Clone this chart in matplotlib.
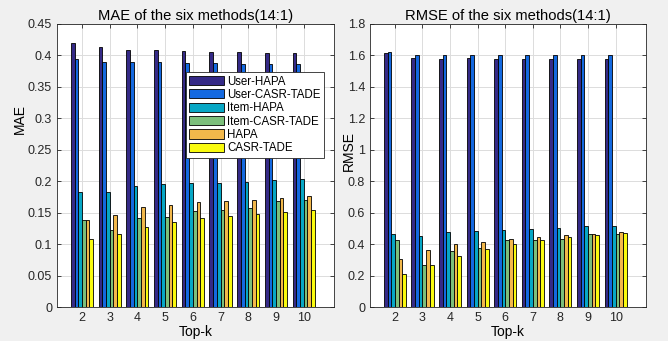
import numpy as np
import matplotlib
matplotlib.use("Agg")
import matplotlib.pyplot as plt

plt.rcParams["font.family"] = ["Liberation Sans", "DejaVu Sans"]

# ---------- DATA ----------
top_k = [2, 3, 4, 5, 6, 7, 8, 9, 10]
methods = ["User-HAPA", "User-CASR-TADE", "Item-HAPA", "Item-CASR-TADE", "HAPA", "CASR-TADE"]

mae_user_hapa = [0.419, 0.413, 0.408, 0.408, 0.407, 0.406, 0.405, 0.404, 0.403]
mae_user_casr = [0.394, 0.390, 0.390, 0.389, 0.388, 0.388, 0.387, 0.387, 0.386]
mae_item_hapa = [0.183, 0.183, 0.192, 0.196, 0.197, 0.197, 0.199, 0.202, 0.203]
mae_item_casr = [0.139, 0.122, 0.141, 0.144, 0.153, 0.154, 0.158, 0.168, 0.171]
mae_hapa      = [0.139, 0.147, 0.159, 0.163, 0.167, 0.169, 0.171, 0.174, 0.176]
mae_casr      = [0.109, 0.117, 0.127, 0.135, 0.142, 0.145, 0.148, 0.152, 0.155]

rmse_user_hapa = [1.614, 1.586, 1.578, 1.582, 1.576, 1.576, 1.580, 1.580, 1.576]
rmse_user_casr = [1.622, 1.603, 1.603, 1.603, 1.603, 1.603, 1.603, 1.603, 1.603]
rmse_item_hapa = [0.463, 0.455, 0.476, 0.482, 0.491, 0.495, 0.505, 0.514, 0.518]
rmse_item_casr = [0.425, 0.269, 0.358, 0.379, 0.425, 0.429, 0.434, 0.467, 0.467]
rmse_hapa      = [0.309, 0.366, 0.404, 0.417, 0.434, 0.444, 0.459, 0.467, 0.478]
rmse_casr      = [0.208, 0.269, 0.328, 0.371, 0.404, 0.425, 0.444, 0.459, 0.474]

COLORS = ["#352A87", "#1469E0", "#07A7C5", "#7CBF7B", "#F2B84B", "#F9FB0E"]
BG = "#F0F0F0"


def grouped_bars(ax, series):
    n = len(series)
    w = 0.8 / n
    x = np.array(top_k, dtype=float)
    handles = []
    for i, (vals, c) in enumerate(zip(series, COLORS)):
        off = (i - (n - 1) / 2.0) * w
        h = ax.bar(x + off, vals, width=w, color=c, edgecolor="black",
                   linewidth=0.6, zorder=3)
        handles.append(h)
    ax.set_xlim(1.1, 11.1)
    ax.set_xticks(top_k)
    ax.set_facecolor("white")
    ax.grid(True, color="#DCDCDC", linewidth=0.7, zorder=0)
    ax.tick_params(direction="in", top=True, right=True, length=3,
                   labelsize=9, colors="#262626", width=0.6)
    for s in ax.spines.values():
        s.set_color("#262626")
        s.set_linewidth(0.6)
    ax.set_xlabel("Top-k", fontsize=10, labelpad=1)
    return handles


fig = plt.figure(figsize=(6.68, 3.41), dpi=100, facecolor=BG)

ax1 = fig.add_axes([0.0853, 0.099, 0.415, 0.831])
handles = grouped_bars(ax1, [mae_user_hapa, mae_user_casr, mae_item_hapa,
                             mae_item_casr, mae_hapa, mae_casr])
ax1.set_ylim(0, 0.45)
ax1.set_yticks(np.arange(0, 0.451, 0.05))
ax1.set_yticklabels(["0", "0.05", "0.1", "0.15", "0.2", "0.25", "0.3", "0.35", "0.4", "0.45"])
ax1.set_ylabel("MAE", fontsize=10)
ax1.yaxis.set_label_coords(-0.108, 0.665)
ax1.set_title("MAE of the six methods(14:1)", fontsize=10.6, pad=3)
leg = ax1.legend(handles, methods, loc="upper left", bbox_to_anchor=(0.465, 0.83),
                 fontsize=8.3, frameon=True, fancybox=False, framealpha=1,
                 edgecolor="#262626", handlelength=3.0, handleheight=0.85,
                 labelspacing=0.12, borderpad=0.3, handletextpad=0.3,
                 borderaxespad=0)
leg.get_frame().set_linewidth(0.6)

ax2 = fig.add_axes([0.554, 0.099, 0.413, 0.831])
grouped_bars(ax2, [rmse_user_hapa, rmse_user_casr, rmse_item_hapa,
                   rmse_item_casr, rmse_hapa, rmse_casr])
ax2.set_ylim(0, 1.8)
ax2.set_yticks(np.arange(0, 1.81, 0.2))
ax2.set_yticklabels(["0", "0.2", "0.4", "0.6", "0.8", "1", "1.2", "1.4", "1.6", "1.8"])
ax2.set_ylabel("RMSE", fontsize=10)
ax2.yaxis.set_label_coords(-0.05, 0.55)
ax2.set_title("RMSE of the six methods(14:1)", fontsize=10.6, pad=3)

fig.savefig("out.png", dpi=100, facecolor=BG)
